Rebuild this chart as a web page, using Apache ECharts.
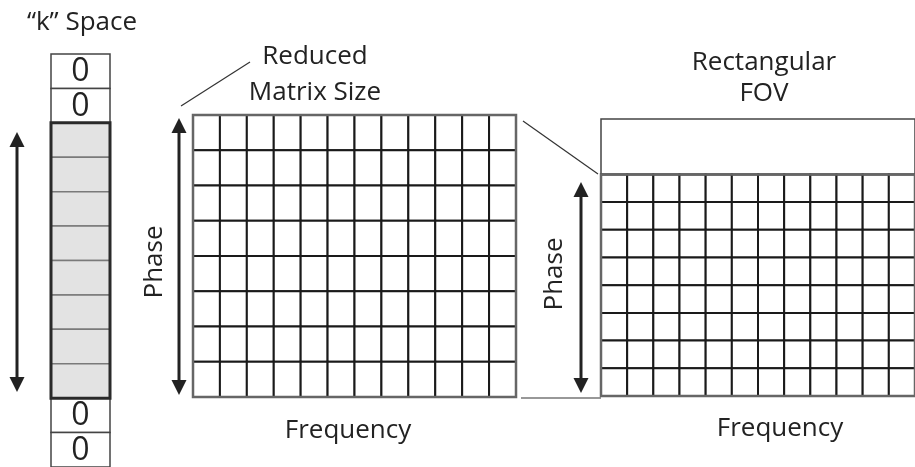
<!DOCTYPE html>
<html>
<head>
<meta charset="utf-8">
<script src="https://cdn.jsdelivr.net/npm/echarts@6/dist/echarts.min.js"></script>
<style>
  html, body { margin: 0; background: #fff; }
  #chart { width: 915px; height: 467px; }
</style>
</head>
<body>
<div id="chart"></div>
<script>
// k-space column, top to bottom: '0' = zero-filled line, '' = acquired line
var kLines = ['0', '0', '', '', '', '', '', '', '', '', '0', '0'];
// reduced matrix size: frequency columns x phase rows
var matrixFreq = [0, 1, 2, 3, 4, 5, 6, 7, 8, 9, 10, 11];
var matrixPhase = [0, 1, 2, 3, 4, 5, 6, 7];
// rectangular FOV: same frequency columns, phase rows sit under an empty band of 2 rows
var fovFreq = [0, 1, 2, 3, 4, 5, 6, 7, 8, 9, 10, 11];
var fovPhase = [2, 3, 4, 5, 6, 7, 8, 9];
var fovEmptyRows = [0, 2];
// double arrows [x, yTop, yBottom] and connector lines [x1, y1, x2, y2], page units
var arrows = [[17, 132, 392], [179, 118, 395], [581, 182, 393]];
var connectors = [[181, 106, 250, 62], [523, 121, 598, 174], [521, 398, 601, 398]];

var FONT = '"Open Sans", "Noto Sans", sans-serif';
var INK = '#222';

var myChart = echarts.init(document.getElementById('chart'), null, { renderer: 'canvas' });

function cross(list) {
	var out = [];
	list[1].forEach(function (r) {
		list[0].forEach(function (c) { out.push([c, r]); });
	});
	return out;
}

function rectOf(api, x0, y0, x1, y1) {
	var a = api.coord([x0, y0]);
	var b = api.coord([x1, y1]);
	return { x: a[0], y: a[1], width: b[0] - a[0], height: b[1] - a[1] };
}

// one white cell with black lines
function gridCell(params, api) {
	var c = api.value(0), r = api.value(1);
	return {
		type: 'rect',
		shape: rectOf(api, c, r, c + 1, r + 1),
		style: { fill: '#fff', stroke: '#1a1a1a', lineWidth: 2 }
	};
}

// outline box [x0, y0, x1, y1]
function outline(color, width) {
	return function (params, api) {
		return {
			type: 'rect',
			shape: rectOf(api, api.value(0), api.value(1), api.value(2), api.value(3)),
			style: { fill: 'none', stroke: color, lineWidth: width }
		};
	};
}

function kCell(params, api) {
	var r = params.dataIndex;
	var label = kLines[r];
	var shape = rectOf(api, 0, r, 1, r + 1);
	var children = [{
		type: 'rect',
		shape: shape,
		style: label === '' ?
			{ fill: '#e3e3e3', stroke: '#7a7a7a', lineWidth: 1.5 } :
			{ fill: '#fff', stroke: '#444', lineWidth: 1.5 }
	}];
	if (label !== '') {
		children.push({
			type: 'text',
			x: shape.x + shape.width / 2,
			y: shape.y + shape.height / 2 + 1,
			style: { text: label, fill: INK, font: '32px ' + FONT, align: 'center', verticalAlign: 'middle' }
		});
	}
	return { type: 'group', children: children };
}

function arrowItem(params, api) {
	var x = api.value(0);
	var top = api.coord([x, api.value(1)]);
	var bot = api.coord([x, api.value(2)]);
	var hw = 7.5, hl = 15;
	return {
		type: 'group',
		children: [{
			type: 'line',
			shape: { x1: top[0], y1: top[1] + hl - 2, x2: bot[0], y2: bot[1] - hl + 2 },
			style: { stroke: INK, lineWidth: 3 }
		}, {
			type: 'polygon',
			shape: { points: [[top[0], top[1]], [top[0] - hw, top[1] + hl], [top[0] + hw, top[1] + hl]] },
			style: { fill: INK }
		}, {
			type: 'polygon',
			shape: { points: [[bot[0], bot[1]], [bot[0] - hw, bot[1] - hl], [bot[0] + hw, bot[1] - hl]] },
			style: { fill: INK }
		}]
	};
}

function connectorItem(params, api) {
	var a = api.coord([api.value(0), api.value(1)]);
	var b = api.coord([api.value(2), api.value(3)]);
	return {
		type: 'line',
		shape: { x1: a[0], y1: a[1], x2: b[0], y2: b[1] },
		style: { stroke: '#333', lineWidth: 1.2 }
	};
}

function hidden(min, max, inverse) {
	return { type: 'value', min: min, max: max, inverse: !!inverse, show: false };
}

function txt(text, x, y, size, rot, lh) {
	return {
		type: 'text', x: x, y: y, rotation: rot || 0,
		style: { text: text, fill: INK, font: size + 'px ' + FONT, align: 'center', verticalAlign: 'middle', lineHeight: lh || 34 }
	};
}

var option = {
	animation: false,
	backgroundColor: '#fff',
	grid: [
		{ left: 51, top: 54, width: 59, height: 415 },   // k space
		{ left: 193, top: 115, width: 323, height: 282 }, // reduced matrix
		{ left: 601, top: 119, width: 322, height: 277 }, // rectangular FOV
		{ left: 0, top: 0, width: 915, height: 467 }      // overlay, page units
	],
	xAxis: [hidden(0, 1), hidden(0, 12), hidden(0, 12), hidden(0, 915)].map(function (a, i) { a.gridIndex = i; return a; }),
	yAxis: [hidden(0, 12, true), hidden(0, 8, true), hidden(0, 10, true), hidden(0, 467, true)].map(function (a, i) { a.gridIndex = i; return a; }),
	series: [
		{ type: 'custom', xAxisIndex: 0, yAxisIndex: 0, renderItem: kCell, data: kLines.map(function (l, i) { return [0, i]; }) },
		{ type: 'custom', xAxisIndex: 0, yAxisIndex: 0, z: 3, renderItem: outline('#2a2a2a', 3), data: [[0, 2, 1, 10]] },

		{ type: 'custom', xAxisIndex: 1, yAxisIndex: 1, renderItem: gridCell, data: cross([matrixFreq, matrixPhase]) },
		{ type: 'custom', xAxisIndex: 1, yAxisIndex: 1, z: 3, renderItem: outline('#666', 2.5), data: [[0, 0, 12, 8]] },

		{ type: 'custom', xAxisIndex: 2, yAxisIndex: 2, renderItem: outline('#444', 1.5), data: [[0, fovEmptyRows[0], 12, fovEmptyRows[1]]] },
		{ type: 'custom', xAxisIndex: 2, yAxisIndex: 2, renderItem: gridCell, data: cross([fovFreq, fovPhase]) },
		{ type: 'custom', xAxisIndex: 2, yAxisIndex: 2, z: 3, renderItem: outline('#666', 2.5), data: [[0, 2, 12, 10]] },

		{ type: 'custom', xAxisIndex: 3, yAxisIndex: 3, z: 4, renderItem: arrowItem, data: arrows },
		{ type: 'custom', xAxisIndex: 3, yAxisIndex: 3, z: 4, renderItem: connectorItem, data: connectors }
	],
	graphic: [
		txt('\u201ck\u201d Space', 82, 23, 26),
		txt('Reduced\nMatrix Size', 315, 75, 26, 0, 36),
		txt('Rectangular\nFOV', 764, 78, 26, 0, 31),
		txt('Phase', 155, 262, 26, Math.PI / 2),
		txt('Phase', 555, 274, 26, Math.PI / 2),
		txt('Frequency', 348, 431, 26),
		txt('Frequency', 780, 429, 26)
	]
};
myChart.setOption(option);
</script>
</body>
</html>
